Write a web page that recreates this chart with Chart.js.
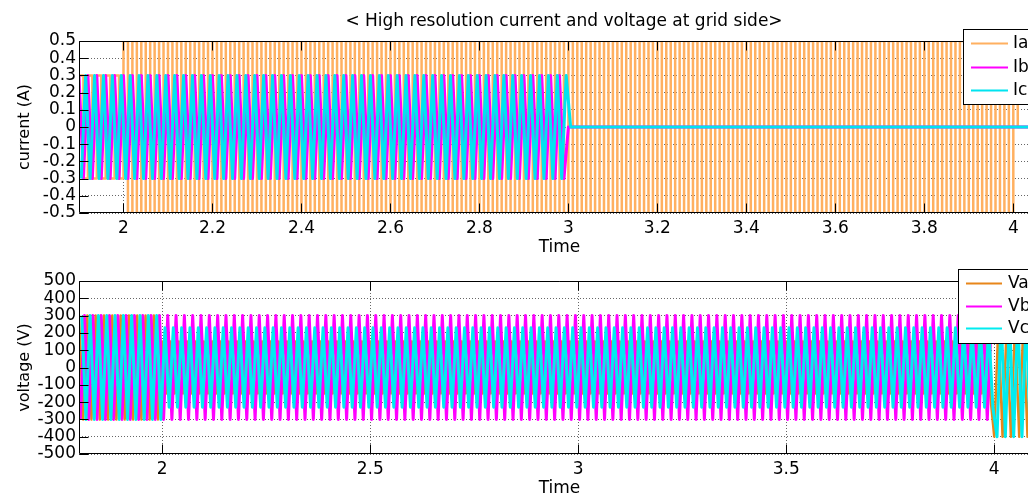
<!DOCTYPE html>
<html><head><meta charset="utf-8">
<script src="https://cdn.jsdelivr.net/npm/chart.js@4.4.1/dist/chart.umd.min.js"></script>
<style>
html,body{margin:0;padding:0;overflow:hidden;background:#fff;width:1028px;height:496px;}
#wrap{position:relative;width:1028px;height:496px;overflow:hidden;background:#fff;}
canvas{position:absolute;left:0;}
#c1{top:0;}
#c2{top:262px;}
</style></head><body>
<div id="wrap"><canvas id="c1" width="1100" height="262"></canvas><canvas id="c2" width="1100" height="250"></canvas></div>
<script>
// ---------- texts & ticks ----------
const topTitle = '< High resolution current and voltage at grid side>';
const xTitle = 'Time';
const topYTitle = 'current (A)';
const botYTitle = 'voltage (V)';
const topXTicks = [2, 2.2, 2.4, 2.6, 2.8, 3, 3.2, 3.4, 3.6, 3.8, 4];
const topXLabels = ['2', '2.2', '2.4', '2.6', '2.8', '3', '3.2', '3.4', '3.6', '3.8', '4'];
const topYTicks = [-0.5, -0.4, -0.3, -0.2, -0.1, 0, 0.1, 0.2, 0.3, 0.4, 0.5];
const topYLabels = ['-0.5', '-0.4', '-0.3', '-0.2', '-0.1', '0', '0.1', '0.2', '0.3', '0.4', '0.5'];
const botXTicks = [2, 2.5, 3, 3.5, 4];
const botXLabels = ['2', '2.5', '3', '3.5', '4'];
const botYTicks = [-500, -400, -300, -200, -100, 0, 100, 200, 300, 400, 500];
const botYLabels = ['-500', '-400', '-300', '-200', '-100', '0', '100', '200', '300', '400', '500'];

const sampleStep = 0.01;
const iaStart = 1.9, ibStart = 1.9, icStart = 1.905;
const vaStart = 1.8, vbStart = 1.8033, vcStart = 1.8067;

const iaValues = [
.3,-.3,.3,-.3,.3,-.3,.3,-.3,.3,-.3,
.5,-.5,.5,-.5,.5,-.5,.5,-.5,.5,-.5,.5,-.5,.5,-.5,.5,-.5,.5,-.5,.5,-.5,
.5,-.5,.5,-.5,.5,-.5,.5,-.5,.5,-.5,.5,-.5,.5,-.5,.5,-.5,.5,-.5,.5,-.5,
.5,-.5,.5,-.5,.5,-.5,.5,-.5,.5,-.5,.5,-.5,.5,-.5,.5,-.5,.5,-.5,.5,-.5,
.5,-.5,.5,-.5,.5,-.5,.5,-.5,.5,-.5,.5,-.5,.5,-.5,.5,-.5,.5,-.5,.5,-.5,
.5,-.5,.5,-.5,.5,-.5,.5,-.5,.5,-.5,.5,-.5,.5,-.5,.5,-.5,.5,-.5,.5,-.5,
.5,-.5,.5,-.5,.5,-.5,.5,-.5,.5,-.5,.5,-.5,.5,-.5,.5,-.5,.5,-.5,.5,-.5,
.5,-.5,.5,-.5,.5,-.5,.5,-.5,.5,-.5,.5,-.5,.5,-.5,.5,-.5,.5,-.5,.5,-.5,
.5,-.5,.5,-.5,.5,-.5,.5,-.5,.5,-.5,.5,-.5,.5,-.5,.5,-.5,.5,-.5,.5,-.5,
.5,-.5,.5,-.5,.5,-.5,.5,-.5,.5,-.5,.5,-.5,.5,-.5,.5,-.5,.5,-.5,.5,-.5,
.5,-.5,.5,-.5,.5,-.5,.5,-.5,.5,-.5,.5,-.5,.5,-.5,.5,-.5,.5,-.5,.5,-.5,
.5,
0,0,0,0,0,0,0,0,0,0
];
const ibValues = [
.3,-.3,.3,-.3,.3,-.3,.3,-.3,.3,-.3,.3,-.3,.3,-.3,.3,-.3,.3,-.3,.3,-.3,
.3,-.3,.3,-.3,.3,-.3,.3,-.3,.3,-.3,.3,-.3,.3,-.3,.3,-.3,.3,-.3,.3,-.3,
.3,-.3,.3,-.3,.3,-.3,.3,-.3,.3,-.3,.3,-.3,.3,-.3,.3,-.3,.3,-.3,.3,-.3,
.3,-.3,.3,-.3,.3,-.3,.3,-.3,.3,-.3,.3,-.3,.3,-.3,.3,-.3,.3,-.3,.3,-.3,
.3,-.3,.3,-.3,.3,-.3,.3,-.3,.3,-.3,.3,-.3,.3,-.3,.3,-.3,.3,-.3,.3,-.3,
.3,-.3,.3,-.3,.3,-.3,.3,-.3,.3,-.3,
0,0,0,0,0,0,0,0,0,0,0,0,0,0,0,0,0,0,0,0,
0,0,0,0,0,0,0,0,0,0,0,0,0,0,0,0,0,0,0,0,
0,0,0,0,0,0,0,0,0,0,0,0,0,0,0,0,0,0,0,0,
0,0,0,0,0,0,0,0,0,0,0,0,0,0,0,0,0,0,0,0,
0,0,0,0,0,0,0,0,0,0,0,0,0,0,0,0,0,0,0,0,
0,0,0,0,0,0,0,0,0,0,0
];
const icValues = [
-.3,.3,-.3,.3,-.3,.3,-.3,.3,-.3,.3,-.3,.3,-.3,.3,-.3,.3,-.3,.3,-.3,.3,
-.3,.3,-.3,.3,-.3,.3,-.3,.3,-.3,.3,-.3,.3,-.3,.3,-.3,.3,-.3,.3,-.3,.3,
-.3,.3,-.3,.3,-.3,.3,-.3,.3,-.3,.3,-.3,.3,-.3,.3,-.3,.3,-.3,.3,-.3,.3,
-.3,.3,-.3,.3,-.3,.3,-.3,.3,-.3,.3,-.3,.3,-.3,.3,-.3,.3,-.3,.3,-.3,.3,
-.3,.3,-.3,.3,-.3,.3,-.3,.3,-.3,.3,-.3,.3,-.3,.3,-.3,.3,-.3,.3,-.3,.3,
-.3,.3,-.3,.3,-.3,.3,-.3,.3,-.3,.3,
0,0,0,0,0,0,0,0,0,0,0,0,0,0,0,0,0,0,0,0,
0,0,0,0,0,0,0,0,0,0,0,0,0,0,0,0,0,0,0,0,
0,0,0,0,0,0,0,0,0,0,0,0,0,0,0,0,0,0,0,0,
0,0,0,0,0,0,0,0,0,0,0,0,0,0,0,0,0,0,0,0,
0,0,0,0,0,0,0,0,0,0,0,0,0,0,0,0,0,0,0,0,
0,0,0,0,0,0,0,0,0,0,0
];
const vaValues = [
300,-300,300,-300,300,-300,300,-300,300,-300,300,-300,300,-300,300,-300,300,-300,300,-300,
150,-150,150,-150,150,-150,150,-150,150,-150,150,-150,150,-150,150,-150,150,-150,150,-150,
150,-150,150,-150,150,-150,150,-150,150,-150,150,-150,150,-150,150,-150,150,-150,150,-150,
150,-150,150,-150,150,-150,150,-150,150,-150,150,-150,150,-150,150,-150,150,-150,150,-150,
150,-150,150,-150,150,-150,150,-150,150,-150,150,-150,150,-150,150,-150,150,-150,150,-150,
150,-150,150,-150,150,-150,150,-150,150,-150,150,-150,150,-150,150,-150,150,-150,150,-150,
150,-150,150,-150,150,-150,150,-150,150,-150,150,-150,150,-150,150,-150,150,-150,150,-150,
150,-150,150,-150,150,-150,150,-150,150,-150,150,-150,150,-150,150,-150,150,-150,150,-150,
150,-150,150,-150,150,-150,150,-150,150,-150,150,-150,150,-150,150,-150,150,-150,150,-150,
150,-150,150,-150,150,-150,150,-150,150,-150,150,-150,150,-150,150,-150,150,-150,150,-150,
150,-150,150,-150,150,-150,150,-150,150,-150,150,-150,150,-150,150,-150,150,-150,150,-150,
-400,250,-400,250,-400,250,-400,250,-400,250,-400
];
const vbValues = [
-300,300,-300,300,-300,300,-300,300,-300,300,-300,300,-300,300,-300,300,-300,300,-300,300,
-300,300,-300,300,-300,300,-300,300,-300,300,-300,300,-300,300,-300,300,-300,300,-300,300,
-300,300,-300,300,-300,300,-300,300,-300,300,-300,300,-300,300,-300,300,-300,300,-300,300,
-300,300,-300,300,-300,300,-300,300,-300,300,-300,300,-300,300,-300,300,-300,300,-300,300,
-300,300,-300,300,-300,300,-300,300,-300,300,-300,300,-300,300,-300,300,-300,300,-300,300,
-300,300,-300,300,-300,300,-300,300,-300,300,-300,300,-300,300,-300,300,-300,300,-300,300,
-300,300,-300,300,-300,300,-300,300,-300,300,-300,300,-300,300,-300,300,-300,300,-300,300,
-300,300,-300,300,-300,300,-300,300,-300,300,-300,300,-300,300,-300,300,-300,300,-300,300,
-300,300,-300,300,-300,300,-300,300,-300,300,-300,300,-300,300,-300,300,-300,300,-300,300,
-300,300,-300,300,-300,300,-300,300,-300,300,-300,300,-300,300,-300,300,-300,300,-300,300,
-300,300,-300,300,-300,300,-300,300,-300,300,-300,300,-300,300,-300,300,-300,300,-300,300,
150,300,150,300,150,300,150,300,150,300,150
];
const vcValues = [
300,-300,300,-300,300,-300,300,-300,300,-300,300,-300,300,-300,300,-300,300,-300,300,-300,
230,-230,230,-230,230,-230,230,-230,230,-230,230,-230,230,-230,230,-230,230,-230,230,-230,
230,-230,230,-230,230,-230,230,-230,230,-230,230,-230,230,-230,230,-230,230,-230,230,-230,
230,-230,230,-230,230,-230,230,-230,230,-230,230,-230,230,-230,230,-230,230,-230,230,-230,
230,-230,230,-230,230,-230,230,-230,230,-230,230,-230,230,-230,230,-230,230,-230,230,-230,
230,-230,230,-230,230,-230,230,-230,230,-230,230,-230,230,-230,230,-230,230,-230,230,-230,
230,-230,230,-230,230,-230,230,-230,230,-230,230,-230,230,-230,230,-230,230,-230,230,-230,
230,-230,230,-230,230,-230,230,-230,230,-230,230,-230,230,-230,230,-230,230,-230,230,-230,
230,-230,230,-230,230,-230,230,-230,230,-230,230,-230,230,-230,230,-230,230,-230,230,-230,
230,-230,230,-230,230,-230,230,-230,230,-230,230,-230,230,-230,230,-230,230,-230,230,-230,
230,-230,230,-230,230,-230,230,-230,230,-230,230,-230,230,-230,230,-230,230,-230,230,-230,
-400,300,-400,300,-400,300,-400,300,-400,300,-400
];

// ---------- helpers ----------
function toPoints(values, start) {
  return values.map((v, i) => ({ x: start + i * sampleStep, y: v }));
}

Chart.defaults.font.family = '"DejaVu Sans", sans-serif';
Chart.defaults.color = '#000';

const framePlugin = {
  id: 'frame',
  afterDatasetsDraw(chart, args, o) {
    const { ctx, chartArea: a, scales: { x, y } } = chart;
    const L = Math.round(a.left) + 0.5, T = Math.round(a.top) + 0.5;
    const R = Math.round(a.right) - 0.5, B = Math.round(a.bottom) - 0.5;
    ctx.save();
    ctx.strokeStyle = '#000';
    ctx.lineWidth = 1;
    ctx.beginPath();
    ctx.rect(L, T, R - L, B - T);
    x.ticks.forEach(t => {
      const px = Math.round(x.getPixelForValue(t.value)) + 0.5;
      ctx.moveTo(px, B); ctx.lineTo(px, B - o.len);
      ctx.moveTo(px, T); ctx.lineTo(px, T + o.len);
    });
    y.ticks.forEach(t => {
      const py = Math.round(y.getPixelForValue(t.value)) + 0.5;
      ctx.moveTo(L, py); ctx.lineTo(L + o.len, py);
      ctx.moveTo(R, py); ctx.lineTo(R - o.len, py);
    });
    ctx.stroke();
    ctx.restore();
  }
};

const titlePlugin = {
  id: 'plotTitle',
  afterDraw(chart, args, o) {
    if (!o || !o.text) return;
    const ctx = chart.ctx;
    ctx.save();
    ctx.font = o.size + 'px "DejaVu Sans", sans-serif';
    ctx.fillStyle = '#000';
    ctx.textAlign = 'center';
    ctx.textBaseline = 'middle';
    ctx.fillText(o.text, o.x, o.y);
    ctx.restore();
  }
};

const legendPlugin = {
  id: 'boxLegend',
  afterDraw(chart, args, o) {
    const ctx = chart.ctx;
    ctx.save();
    ctx.fillStyle = '#fff';
    ctx.fillRect(o.x, o.y, o.w, o.h);
    ctx.strokeStyle = '#000';
    ctx.lineWidth = 1;
    ctx.strokeRect(o.x + 0.5, o.y + 0.5, o.w, o.h);
    ctx.font = o.size + 'px "DejaVu Sans", sans-serif';
    ctx.textAlign = 'left';
    ctx.textBaseline = 'middle';
    chart.data.datasets.forEach((ds, i) => {
      const yy = o.rows[i] + 0.5;
      ctx.strokeStyle = ds.borderColor;
      ctx.lineWidth = 2;
      ctx.beginPath();
      ctx.moveTo(o.lx0, yy); ctx.lineTo(o.lx1, yy);
      ctx.stroke();
      ctx.fillStyle = '#000';
      ctx.fillText(ds.label, o.tx, yy);
    });
    ctx.restore();
  }
};

function axisX(min, max, ticks, labels, height, titlePadBottom) {
  return {
    type: 'linear', min: min, max: max, bounds: 'data',
    afterBuildTicks: s => { s.ticks = ticks.map(v => ({ value: v })); },
    afterFit: s => { s.height = height; },
    ticks: { autoSkip: false, maxRotation: 0, minRotation: 0, padding: 5, color: '#000',
             font: { size: 17 }, callback: (v, i) => labels[i] },
    grid: { color: 'rgba(0,0,0,0.6)', lineWidth: 1, drawTicks: false },
    border: { display: false, dash: [1, 2] },
    title: { display: true, text: xTitle, color: '#000', font: { size: 17 },
             padding: { top: 0, bottom: titlePadBottom } }
  };
}
function axisY(min, max, ticks, labels, title) {
  return {
    type: 'linear', min: min, max: max, bounds: 'data',
    afterBuildTicks: s => { s.ticks = ticks.map(v => ({ value: v })); },
    afterFit: s => { s.width = 79; },
    ticks: { autoSkip: false, padding: 3, color: '#000', font: { size: 17 },
             callback: (v, i) => labels[i] },
    grid: { color: 'rgba(0,0,0,0.6)', lineWidth: 1, drawTicks: false },
    border: { display: false, dash: [1, 2] },
    title: { display: true, text: title, color: '#000', font: { size: 16 },
             padding: { top: 15, bottom: 0 } }
  };
}
function series(label, values, start, color, order, width, stepped) {
  return {
    label: label, data: toPoints(values, start), borderColor: color, backgroundColor: color,
    borderWidth: width, pointRadius: 0, tension: 0, fill: false, order: order,
    stepped: stepped || false, borderJoinStyle: 'round', spanGaps: true
  };
}

// ---------- top chart ----------
new Chart(document.getElementById('c1'), {
  type: 'line',
  data: { datasets: [
    series('Ia', iaValues, iaStart, '#FFB060', 3, 2.5, true),
    series('Ib', ibValues, ibStart, '#FF00FF', 2, 3),
    series('Ic', icValues, icStart, '#00E4F0', 1, 3)
  ] },
  options: {
    responsive: false, animation: false, events: [], parsing: false, normalized: true,
    layout: { padding: { left: 0, top: 41, right: 60, bottom: 0 } },
    scales: {
      x: axisX(1.9, 4.06, topXTicks, topXLabels, 49, 4),
      y: axisY(-0.5, 0.5, topYTicks, topYLabels, topYTitle)
    },
    plugins: {
      legend: { display: false }, tooltip: { enabled: false },
      frame: { len: 9 },
      plotTitle: { text: topTitle, x: 564, y: 22, size: 17 },
      boxLegend: { x: 963, y: 29, w: 100, h: 75, rows: [43, 67, 90], lx0: 971, lx1: 1008, tx: 1013, size: 17 }
    }
  },
  plugins: [framePlugin, titlePlugin, legendPlugin]
});

// ---------- bottom chart ----------
new Chart(document.getElementById('c2'), {
  type: 'line',
  data: { datasets: [
    series('Va', vaValues, vaStart, '#E8861A', 3, 2.5),
    series('Vb', vbValues, vbStart, '#FF00FF', 2, 3),
    series('Vc', vcValues, vcStart, '#00ECF0', 1, 3)
  ] },
  options: {
    responsive: false, animation: false, events: [], parsing: false, normalized: true,
    layout: { padding: { left: 0, top: 19, right: 60, bottom: 0 } },
    scales: {
      x: axisX(1.8, 4.11, botXTicks, botXLabels, 58, 13),
      y: axisY(-500, 500, botYTicks, botYLabels, botYTitle)
    },
    plugins: {
      legend: { display: false }, tooltip: { enabled: false },
      frame: { len: 9 },
      boxLegend: { x: 958, y: 7, w: 100, h: 74, rows: [21, 44, 66], lx0: 966, lx1: 1002, tx: 1008, size: 17 }
    }
  },
  plugins: [framePlugin, legendPlugin]
});
</script>
</body></html>
